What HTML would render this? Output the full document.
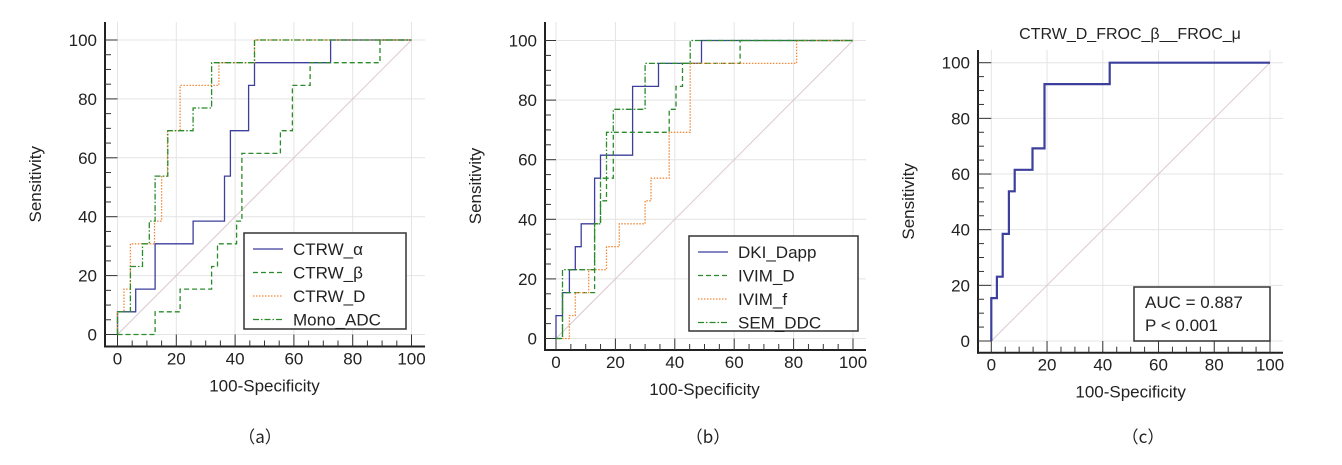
<!DOCTYPE html>
<html><head><meta charset="utf-8"><style>
body{margin:0;background:#fff;}
svg{display:block;font-family:"Liberation Sans",Arial,sans-serif;}
</style></head><body>
<svg id="chart" width="1342" height="465" viewBox="0 0 1342 465" xmlns="http://www.w3.org/2000/svg"></svg>
<script>
// Panel (a)
const aCategories = ["CTRW_α","CTRW_β","CTRW_D","Mono_ADC"];
const aAlphaX = [0,0,6.2,6.2,12.8,12.8,25.7,25.7,36.4,36.4,38.4,38.4,44.6,44.6,46.6,46.6,72.5,72.5,100];
const aAlphaY = [0,7.7,7.7,15.4,15.4,30.8,30.8,38.5,38.5,53.8,53.8,69.2,69.2,84.6,84.6,92.3,92.3,100,100];
const aBetaX = [0,12.8,12.8,21.3,21.3,32,32,34,34,40.5,40.5,42.3,42.3,55.4,55.4,59.5,59.5,65.5,65.5,89.3,89.3,100];
const aBetaY = [0,0,7.7,7.7,15.4,15.4,23.1,23.1,30.8,30.8,38.5,38.5,61.5,61.5,69.2,69.2,84.6,84.6,92.3,92.3,100,100];
const aDX = [0,0,2.2,2.2,4.4,4.4,12.6,12.6,15,15,17,17,21.3,21.3,34.5,34.5,46.6,46.6,100];
const aDY = [0,7.7,7.7,15.4,15.4,30.8,30.8,38.5,38.5,53.8,53.8,69.2,69.2,84.6,84.6,92.3,92.3,100,100];
const aMonoX = [0,0,4.4,4.4,8.5,8.5,10.8,10.8,12.8,12.8,17.1,17.1,25.7,25.7,32,32,46.6,46.6,100];
const aMonoY = [0,7.7,7.7,23.1,23.1,30.8,30.8,38.5,38.5,53.8,53.8,69.2,69.2,76.9,76.9,92.3,92.3,100,100];
// Panel (b)
const bCategories = ["DKI_Dapp","IVIM_D","IVIM_f","SEM_DDC"];
const bDkiX = [0,0,2.2,2.2,4.5,4.5,6.5,6.5,8.5,8.5,13,13,15,15,25.8,25.8,34.5,34.5,49,49,100];
const bDkiY = [0,7.7,7.7,15.4,15.4,23.1,23.1,30.8,30.8,38.5,38.5,53.8,53.8,61.5,61.5,84.6,84.6,92.3,92.3,100,100];
const bIvimDX = [0,2.2,2.2,13,13,15,15,17,17,19.3,19.3,38.1,38.1,40.4,40.4,42.6,42.6,62,62,100];
const bIvimDY = [0,0,15.4,15.4,38.5,38.5,46.2,46.2,53.8,53.8,69.2,69.2,76.9,76.9,84.6,84.6,92.3,92.3,100,100];
const bIvimFX = [0,4.5,4.5,6.5,6.5,11,11,17,17,21.3,21.3,30,30,32,32,38.1,38.1,45.2,45.2,81,81,100];
const bIvimFY = [0,0,7.7,7.7,15.4,15.4,23.1,23.1,30.8,30.8,38.5,38.5,46.2,46.2,53.8,53.8,69.2,69.2,92.3,92.3,100,100];
const bSemX = [0,2.2,2.2,13,13,15,15,17,17,19.3,19.3,30,30,45.2,45.2,100];
const bSemY = [0,0,23.1,23.1,38.5,38.5,53.8,53.8,69.2,69.2,76.9,76.9,92.3,92.3,100,100];
// Panel (c)
const cX = [0,0,2,2,4.1,4.1,6.3,6.3,8.4,8.4,14.8,14.8,19.1,19.1,42.5,42.5,100];
const cY = [0,15.4,15.4,23.1,23.1,38.5,38.5,53.8,53.8,61.5,61.5,69.2,69.2,92.3,92.3,100,100];
const tickLabels = ["0","20","40","60","80","100"];
const cStats = ["AUC = 0.887","P < 0.001"];

const NS="http://www.w3.org/2000/svg";
const svg=document.getElementById('chart');
function mk(tag,attrs,parent){const e=document.createElementNS(NS,tag);for(const k in attrs)e.setAttribute(k,attrs[k]);(parent||svg).appendChild(e);return e;}

const BLUE="#3c3f9c",GREEN="#2b8a2b",ORANGE="#f28a3a";
const styles={solid:{stroke:BLUE,dash:null,w:1.3},dash:{stroke:GREEN,dash:"5,3",w:1.3},dot:{stroke:ORANGE,dash:"1.5,1.5",w:1.3},dashdot:{stroke:GREEN,dash:"6,2,1.5,2",w:1.3},thick:{stroke:BLUE,dash:null,w:2.2}};

function panel(id,P){
  const g=mk('g',{});
  
  
  const sx=v=>P.x0+(P.x1-P.x0)*v/100;
  const sy=v=>P.y0-(P.y0-P.y1)*v/100;
  for(let i=0;i<=100;i+=20){
    const gl=mk('line',{x1:sx(i),x2:sx(i),y1:P.axY,y2:P.top,stroke:"#e4e4e4","stroke-width":1},g);
    
    const gh=mk('line',{x1:P.axX,x2:P.right,y1:sy(i),y2:sy(i),stroke:"#e4e4e4","stroke-width":1},g);
    
  }
  const d=mk('line',{x1:sx(0),y1:sy(0),x2:sx(100),y2:sy(100),stroke:"#dcc8d0","stroke-width":1},g);
  
  const ya=mk('line',{x1:P.axX,x2:P.axX,y1:P.top,y2:P.axY+1,stroke:"#222","stroke-width":2},g);
  
  const xa=mk('line',{x1:P.axX-1,x2:P.right,y1:P.axY,y2:P.axY,stroke:"#222","stroke-width":2},g);
  
  for(let i=0;i<=100;i+=5){
    const major=i%20===0;
    const ty=mk('line',{x1:P.axX,x2:major?sx(0):P.axX+6,y1:sy(i),y2:sy(i),stroke:"#333","stroke-width":1},g);
    
    const tx=mk('line',{x1:sx(i),x2:sx(i),y1:P.axY,y2:major?sy(0):P.axY-6,stroke:"#333","stroke-width":1},g);
    
  }
  tickLabels.forEach((t,k)=>{
    const v=k*20;
    const ly=mk('text',{x:P.axX-8,y:sy(v)+6,"text-anchor":"end","font-size":17,fill:"#222"},g);ly.textContent=t;
    
    const lx=mk('text',{x:sx(v),y:P.axY+18,"text-anchor":"middle","font-size":17,fill:"#222"},g);lx.textContent=t;
    
  });
  const xt=mk('text',{x:sx(50),y:P.axY+45,"text-anchor":"middle","font-size":17,fill:"#222"},g);xt.textContent="100-Specificity";
  
  const yx=P.axX-64,yy=(P.top+P.axY)/2;
  const yt=mk('text',{x:yx,y:yy,"text-anchor":"middle","font-size":17,fill:"#222",transform:`rotate(-90 ${yx} ${yy})`},g);yt.textContent="Sensitivity";
  
  P.series.forEach(s=>{
    const st=styles[s.style];
    const pts=s.x.map((v,i)=>sx(v).toFixed(1)+","+sy(s.y[i]).toFixed(1)).join(" ");
    const a={points:pts,fill:"none",stroke:st.stroke,"stroke-width":st.w};
    if(st.dash)a["stroke-dasharray"]=st.dash;
    const pl=mk('polyline',a,g);
    
    
  });
  if(P.legend){
    const L=P.legend;
    const r=mk('rect',{x:L.x,y:L.y,width:L.w,height:L.h,fill:"#fff",stroke:"#333","stroke-width":1.5},g);
    
    P.series.forEach((s,i)=>{
      const st=styles[s.style];const cy=L.y+16+i*23.5;
      const a={x1:L.x+9,x2:L.x+39,y1:cy,y2:cy,stroke:st.stroke,"stroke-width":st.w};
      if(st.dash)a["stroke-dasharray"]=st.dash;
      const ln=mk('line',a,g);
      const tx=mk('text',{x:L.x+49,y:cy+6,"font-size":17,fill:"#222"},g);tx.textContent=s.name;
      
    });
  }
  const cap=mk('text',{x:P.capX,y:443,"text-anchor":"middle","font-size":17,fill:"#222","font-family":"'Noto Sans CJK SC','Liberation Sans',sans-serif"},g);
  cap.textContent="（"+id+"）";
  return {g,sx,sy};
}

panel('a',{x0:117.5,x1:411.5,y0:334.5,y1:40,axX:105,axY:346.5,top:22,right:425,capX:260,
  legend:{x:244,y:233,w:162,h:96},
  series:[{name:aCategories[0],x:aAlphaX,y:aAlphaY,style:'solid'},{name:aCategories[1],x:aBetaX,y:aBetaY,style:'dash'},{name:aCategories[2],x:aDX,y:aDY,style:'dot'},{name:aCategories[3],x:aMonoX,y:aMonoY,style:'dashdot'}]});
panel('b',{x0:556,x1:853,y0:338.5,y1:40.5,axX:545,axY:350,top:22,right:866,capX:708,
  legend:{x:689,y:236,w:169,h:95},
  series:[{name:bCategories[0],x:bDkiX,y:bDkiY,style:'solid'},{name:bCategories[1],x:bIvimDX,y:bIvimDY,style:'dash'},{name:bCategories[2],x:bIvimFX,y:bIvimFY,style:'dot'},{name:bCategories[3],x:bSemX,y:bSemY,style:'dashdot'}]});
panel('c',{x0:991.3,x1:1270,y0:341,y1:62.7,axX:978,axY:352.7,top:50,right:1283,capX:1143,legend:null,
  series:[{name:"CTRW_D_FROC_beta_FROC_mu",x:cX,y:cY,style:'thick'}]});
const ct=mk('text',{x:1130,y:39,"text-anchor":"middle","font-size":16,fill:"#222"});ct.textContent="CTRW_D_FROC_β__FROC_μ";

const sb=mk('rect',{x:1134,y:287,width:136,height:54,fill:"#fff",stroke:"#333","stroke-width":1.5});

cStats.forEach((t,i)=>{const e=mk('text',{x:1145,y:308+i*23,"font-size":17,fill:"#222"});e.textContent=t;
});
</script>
</body></html>
